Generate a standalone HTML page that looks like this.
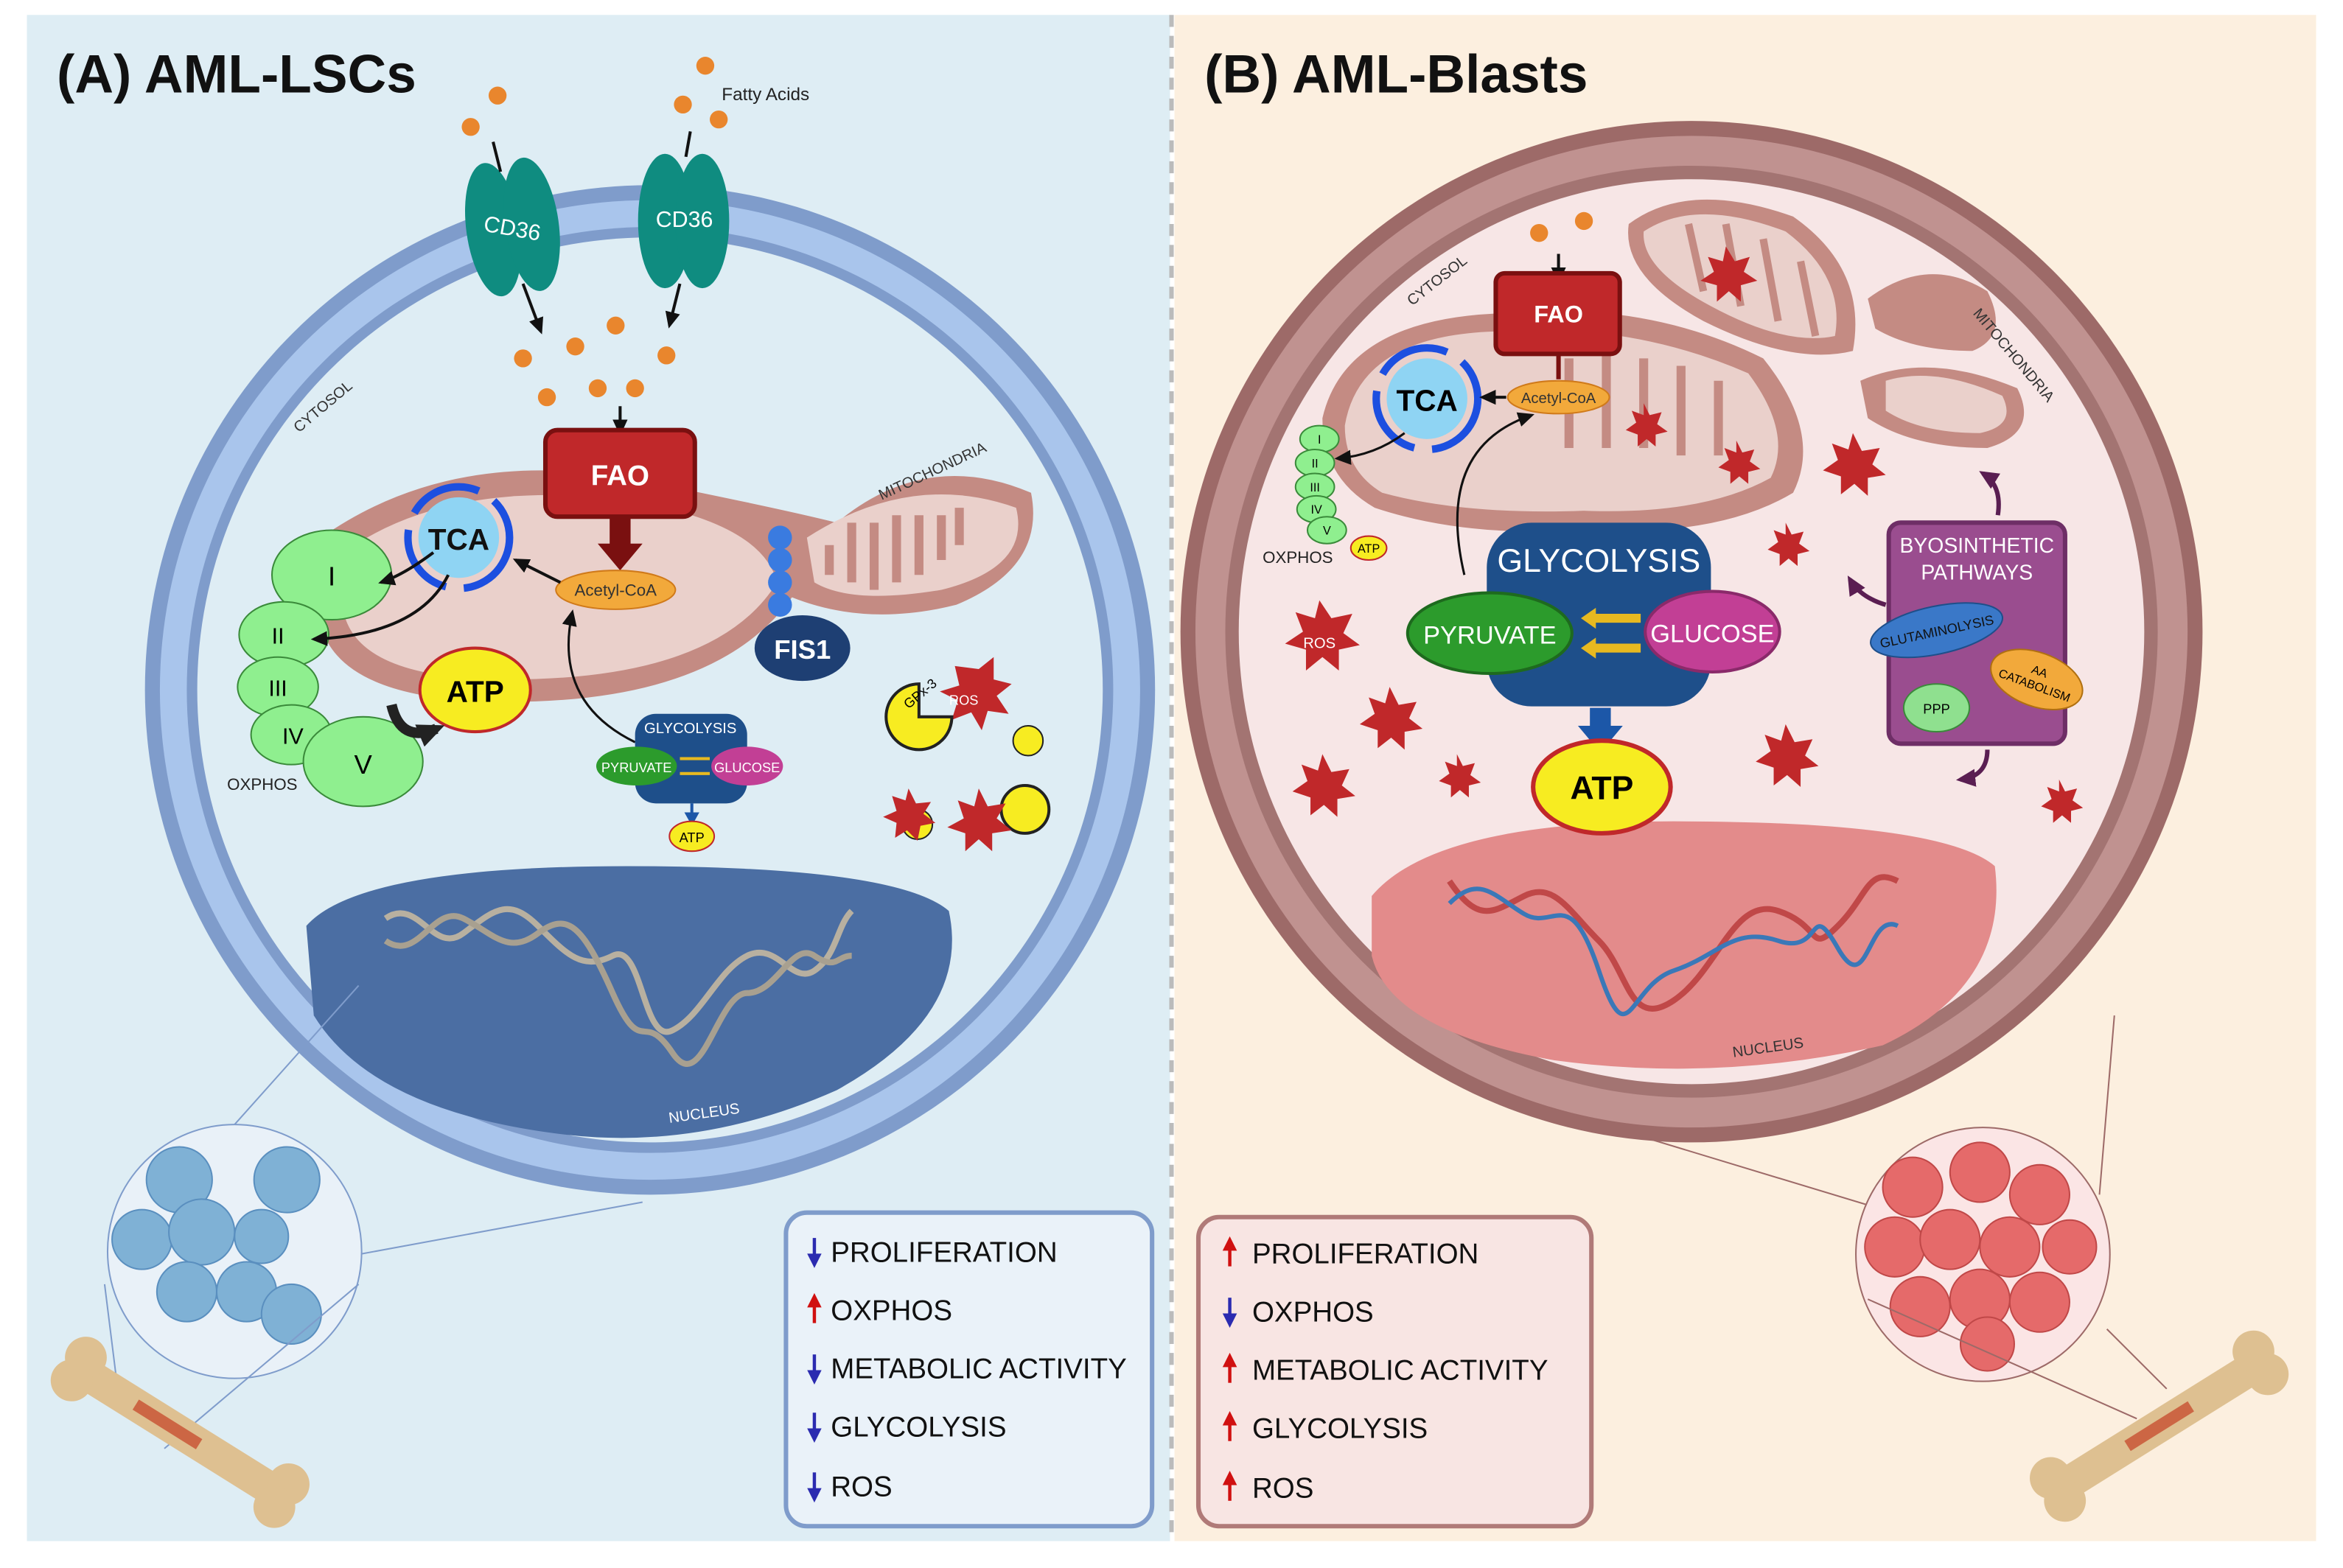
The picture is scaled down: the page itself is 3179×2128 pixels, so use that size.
<!DOCTYPE html>
<html><head><meta charset="utf-8"><style>
html,body{margin:0;padding:0;background:#fff}
svg{display:block}
text{font-family:"Liberation Sans",sans-serif}
</style></head><body>
<svg width="3179" height="2128" viewBox="0 0 1568 1050" preserveAspectRatio="none" xmlns="http://www.w3.org/2000/svg">
<defs>
<marker id="ah" markerUnits="userSpaceOnUse" markerWidth="12" markerHeight="12" refX="9" refY="6" orient="auto"><path d="M0,1 L11,6 L0,11 z" fill="#111"/></marker>
<marker id="ahp" markerUnits="userSpaceOnUse" markerWidth="14" markerHeight="14" refX="10" refY="7" orient="auto"><path d="M0,1 L13,7 L0,13 z" fill="#5a1e52"/></marker>
<marker id="ahb" markerUnits="userSpaceOnUse" markerWidth="10" markerHeight="10" refX="6" refY="5" orient="auto"><path d="M0,0 L9,5 L0,10 z" fill="#1c57a8"/></marker>
<marker id="ahk" markerUnits="userSpaceOnUse" markerWidth="20" markerHeight="20" refX="12" refY="10" orient="auto"><path d="M0,2 L18,10 L0,18 z" fill="#222"/></marker>
<g id="up"><line x1="0" y1="-2" x2="0" y2="-18" stroke-width="2.2"/><path d="M-4,-13 L0,-21 L4,-13 z"/></g>
<g id="dn"><line x1="0" y1="-20" x2="0" y2="-4" stroke-width="2.2"/><path d="M-4,-9 L0,-1 L4,-9 z"/></g>
</defs>
<rect width="1568" height="1050" fill="#fff"/>
<rect x="18" y="10" width="765" height="1022" fill="#deedf4"/>
<rect x="786" y="10" width="764" height="1022" fill="#fcefdf"/>
<line x1="784" y1="10" x2="784" y2="1032" stroke="#bbb" stroke-width="3" stroke-dasharray="8,6"/>

<!-- LEFT CELL -->
<circle cx="435" cy="462" r="338" fill="#7f9ccb"/>
<circle cx="435" cy="462" r="328" fill="#a9c5ec"/>
<circle cx="435" cy="462" r="310" fill="#7f9ccb"/>
<circle cx="435" cy="462" r="303" fill="#deedf4"/>
<text x="38" y="62" font-size="36" font-weight="bold" fill="#111">(A) AML-LSCs</text>
<text x="200" y="290" font-size="10" fill="#333" transform="rotate(-40 200 290)">CYTOSOL</text>
<!-- nucleus -->
<path d="M205,620 Q240,580 420,580 Q600,580 635,610 Q650,680 560,730 Q470,770 380,760 Q250,745 210,680 Z" fill="#4b6ea3"/>
<path d="M258,615 C280,600 290,640 310,625 S340,600 360,620 S390,650 410,640 S430,700 450,690 S480,650 500,640 S530,660 545,650 S560,620 570,610" fill="none" stroke="#b8b0a0" stroke-width="4"/>
<path d="M258,630 C280,645 290,605 310,615 S340,640 360,625 S390,620 410,665 S430,675 450,705 S480,665 500,665 S530,630 545,640 S560,640 570,640" fill="none" stroke="#a8a090" stroke-width="4"/>
<text x="448" y="752" font-size="10" fill="#fff" transform="rotate(-8 448 752)">NUCLEUS</text>
<!-- mitochondria -->
<path d="M215,360 Q300,300 420,320 Q520,340 560,350 Q620,300 690,330 Q700,380 640,405 Q580,420 530,400 Q480,470 340,470 Q230,470 215,420 Z" fill="#c48b83"/>
<path d="M230,370 Q300,320 420,335 Q510,350 520,390 Q480,455 340,455 Q240,455 230,410 Z" fill="#ead0cb"/>
<path d="M540,360 Q610,315 680,340 Q690,380 630,395 Q570,405 545,390 Z" fill="#ead0cb"/>
<path d="M555,385 l0,-20 m15,25 l0,-40 m15,45 l0,-45 m15,40 l0,-45 m15,40 l0,-40 m15,30 l0,-30 m12,20 l0,-25" stroke="#c48b83" stroke-width="6"/>
<text x="590" y="335" font-size="10" fill="#333" transform="rotate(-25 590 335)">MITOCHONDRIA</text>
<!-- FIS1 -->
<circle cx="522" cy="360" r="8" fill="#3a7be0"/><circle cx="522" cy="375" r="8" fill="#3a7be0"/><circle cx="522" cy="390" r="8" fill="#3a7be0"/><circle cx="522" cy="405" r="8" fill="#3a7be0"/>
<ellipse cx="537" cy="434" rx="32" ry="22" fill="#1e3f73"/>
<text x="537" y="441" font-size="18" font-weight="bold" fill="#fff" text-anchor="middle">FIS1</text>
<!-- CD36 -->
<g transform="rotate(-8 343 152)"><ellipse cx="330" cy="152" rx="18" ry="45" fill="#0f8c80"/><ellipse cx="356" cy="152" rx="18" ry="45" fill="#0f8c80"/></g>
<text x="343" y="158" font-size="15" fill="#fff" text-anchor="middle" transform="rotate(10 343 152)">CD36</text>
<ellipse cx="445" cy="148" rx="18" ry="45" fill="#0f8c80"/><ellipse cx="470" cy="148" rx="18" ry="45" fill="#0f8c80"/>
<text x="458" y="152" font-size="15" fill="#fff" text-anchor="middle">CD36</text>
<text x="483" y="67" font-size="12" fill="#222">Fatty Acids</text>
<g fill="#e9862d"><circle cx="315" cy="85" r="6"/><circle cx="333" cy="64" r="6"/><circle cx="472" cy="44" r="6"/><circle cx="457" cy="70" r="6"/><circle cx="481" cy="80" r="6"/><circle cx="350" cy="240" r="6"/><circle cx="385" cy="232" r="6"/><circle cx="412" cy="218" r="6"/><circle cx="446" cy="238" r="6"/><circle cx="366" cy="266" r="6"/><circle cx="400" cy="260" r="6"/><circle cx="425" cy="260" r="6"/></g>
<line x1="330" y1="95" x2="335" y2="115" stroke="#111" stroke-width="2"/>
<line x1="462" y1="88" x2="459" y2="105" stroke="#111" stroke-width="2"/>
<line x1="350" y1="190" x2="362" y2="222" stroke="#111" stroke-width="2" marker-end="url(#ah)"/>
<line x1="455" y1="190" x2="448" y2="218" stroke="#111" stroke-width="2" marker-end="url(#ah)"/>
<line x1="415" y1="272" x2="415" y2="290" stroke="#111" stroke-width="2" marker-end="url(#ah)"/>
<!-- FAO -->
<rect x="365" y="288" width="100" height="58" rx="8" fill="#c0282a" stroke="#7a1010" stroke-width="3"/>
<text x="415" y="325" font-size="19" font-weight="bold" fill="#fff" text-anchor="middle">FAO</text>
<path d="M408,346 h14 v18 h8 l-15,18 l-15,-18 h8 z" fill="#7a1010"/>
<ellipse cx="412" cy="395" rx="40" ry="13" fill="#f2a93b" stroke="#d07a1a"/>
<text x="412" y="399" font-size="11" fill="#333" text-anchor="middle">Acetyl-CoA</text>
<!-- TCA -->
<circle cx="307" cy="360" r="34" fill="none" stroke="#1c4fe0" stroke-width="5" stroke-dasharray="50,12"/>
<circle cx="307" cy="360" r="27" fill="#8fd4f3"/>
<text x="307" y="368" font-size="20" font-weight="bold" fill="#111" text-anchor="middle">TCA</text>
<line x1="375" y1="390" x2="345" y2="375" stroke="#111" stroke-width="2" marker-end="url(#ah)"/>
<!-- OXPHOS complexes -->
<g fill="#8fef8f" stroke="#3a8a3a"><ellipse cx="222" cy="385" rx="40" ry="30"/><ellipse cx="190" cy="425" rx="30" ry="22"/><ellipse cx="186" cy="460" rx="27" ry="20"/><ellipse cx="195" cy="492" rx="27" ry="20"/><ellipse cx="243" cy="510" rx="40" ry="30"/></g>
<text x="222" y="392" font-size="18" text-anchor="middle">I</text>
<text x="186" y="431" font-size="15" text-anchor="middle">II</text>
<text x="186" y="466" font-size="15" text-anchor="middle">III</text>
<text x="196" y="498" font-size="15" text-anchor="middle">IV</text>
<text x="243" y="518" font-size="18" text-anchor="middle">V</text>
<text x="152" y="529" font-size="11" fill="#222">OXPHOS</text>
<path d="M290,370 Q270,385 255,390" fill="none" stroke="#111" stroke-width="2" marker-end="url(#ah)"/>
<path d="M300,385 Q280,425 210,428" fill="none" stroke="#111" stroke-width="2" marker-end="url(#ah)"/>
<ellipse cx="318" cy="462" rx="37" ry="28" fill="#f7ec21" stroke="#c0282a" stroke-width="2"/>
<text x="318" y="470" font-size="20" font-weight="bold" text-anchor="middle">ATP</text>
<path d="M262,472 Q268,498 292,488" fill="none" stroke="#222" stroke-width="7" marker-end="url(#ahk)"/>
<!-- small glycolysis -->
<path d="M425,497 Q370,470 383,410" fill="none" stroke="#111" stroke-width="1.5" marker-end="url(#ah)"/>
<rect x="425" y="478" width="75" height="60" rx="14" fill="#1e4f8a"/>
<text x="462" y="491" font-size="10" fill="#fff" text-anchor="middle">GLYCOLYSIS</text>
<ellipse cx="426" cy="513" rx="27" ry="13" fill="#2c9b2c"/>
<text x="426" y="517" font-size="9" fill="#fff" text-anchor="middle">PYRUVATE</text>
<ellipse cx="500" cy="513" rx="24" ry="13" fill="#c23f95"/>
<text x="500" y="517" font-size="9" fill="#fff" text-anchor="middle">GLUCOSE</text>
<path d="M455,508 h20 M455,518 h20" stroke="#e7b920" stroke-width="2"/>
<line x1="463" y1="538" x2="463" y2="550" stroke="#1c57a8" stroke-width="2" marker-end="url(#ahb)"/>
<ellipse cx="463" cy="560" rx="15" ry="10" fill="#f7ec21" stroke="#c0282a"/>
<text x="463" y="564" font-size="9" text-anchor="middle">ATP</text>
<!-- GPx / ROS -->
<path d="M655,448 l10,-8 l0,15 l12,3 l-10,8 l8,12 l-14,-2 l-4,13 l-7,-12 l-13,5 l4,-13 l-12,-6 l13,-4 l-3,-13 z" fill="#c0282a"/>
<text x="645" y="472" font-size="9" fill="#fff" text-anchor="middle">ROS</text>
<path d="M615,480 m0,-22 a22,22 0 1 0 22,22 l-22,0 z" fill="#f7ec21" stroke="#222" stroke-width="2"/>
<text x="608" y="475" font-size="9" transform="rotate(-40 608 475)">GPx-3</text>
<circle cx="688" cy="496" r="10" fill="#f7ec21" stroke="#222"/>
<circle cx="686" cy="542" r="16" fill="#f7ec21" stroke="#222" stroke-width="2"/>
<circle cx="614" cy="552" r="10" fill="#f7ec21" stroke="#222"/>
<path d="M655,528 l6,12 l12,-2 l-6,10 l10,8 l-13,2 l0,12 l-9,-8 l-9,8 l0,-12 l-12,-4 l11,-6 l-4,-12 l11,4 z" fill="#c0282a"/>
<path d="M608,528 l5,10 l10,-1 l-5,8 l8,6 l-10,2 l-2,10 l-7,-7 l-8,5 l1,-10 l-9,-4 l9,-4 l-3,-10 l9,3 z" fill="#c0282a"/>
<!-- zoom circle left -->
<line x1="157" y1="753" x2="240" y2="660" stroke="#7f9ccb"/>
<line x1="240" y1="840" x2="430" y2="805" stroke="#7f9ccb"/>
<circle cx="157" cy="838" r="85" fill="#e9f1f8" stroke="#7f9ccb"/>
<g fill="#7fb1d5" stroke="#5a8fbf"><circle cx="120" cy="790" r="22"/><circle cx="192" cy="790" r="22"/><circle cx="95" cy="830" r="20"/><circle cx="135" cy="825" r="22"/><circle cx="175" cy="828" r="18"/><circle cx="125" cy="865" r="20"/><circle cx="165" cy="865" r="20"/><circle cx="195" cy="880" r="20"/></g>
<line x1="70" y1="860" x2="80" y2="940" stroke="#7f9ccb"/>
<line x1="240" y1="860" x2="110" y2="970" stroke="#7f9ccb"/>
<!-- bone left -->
<g transform="rotate(32 120 960)"><rect x="40" y="948" width="160" height="22" rx="8" fill="#dec091"/><circle cx="40" cy="950" r="14" fill="#dec091"/><circle cx="40" cy="968" r="14" fill="#dec091"/><circle cx="200" cy="950" r="14" fill="#dec091"/><circle cx="200" cy="968" r="14" fill="#dec091"/><rect x="85" y="955" width="50" height="8" fill="#c64"/></g>
<!-- legend left -->
<rect x="526" y="812" width="245" height="210" rx="14" fill="#eaf2f9" stroke="#7f9ccb" stroke-width="3"/>
<g font-size="19" fill="#111"><text x="556" y="845">PROLIFERATION</text><text x="556" y="884">OXPHOS</text><text x="556" y="923">METABOLIC ACTIVITY</text><text x="556" y="962">GLYCOLYSIS</text><text x="556" y="1002">ROS</text></g>
<g fill="#2b2bb0" stroke="#2b2bb0"><use href="#dn" x="545" y="849"/><use href="#dn" x="545" y="927"/><use href="#dn" x="545" y="966"/><use href="#dn" x="545" y="1006"/></g>
<g fill="#d01010" stroke="#d01010"><use href="#up" x="545" y="888"/></g>

<!-- RIGHT CELL -->
<circle cx="1132" cy="423" r="342" fill="#9d6a68"/>
<circle cx="1132" cy="423" r="332" fill="#c09290"/>
<circle cx="1132" cy="423" r="312" fill="#a37472"/>
<circle cx="1132" cy="423" r="303" fill="#f7e6e6"/>
<text x="806" y="62" font-size="36" font-weight="bold" fill="#111">(B) AML-Blasts</text>
<text x="945" y="205" font-size="10" fill="#333" transform="rotate(-38 945 205)">CYTOSOL</text>
<path d="M918,600 Q960,550 1120,550 Q1300,550 1335,580 Q1345,660 1260,700 Q1150,725 1040,710 Q930,690 918,640 Z" fill="#e38b8b"/>
<path d="M970,590 C990,620 1000,610 1020,600 S1050,610 1070,630 S1090,690 1120,670 S1160,600 1190,610 S1210,640 1230,620 S1250,580 1270,590" fill="none" stroke="#c04848" stroke-width="4"/>
<path d="M970,605 C990,585 1000,600 1020,612 S1050,590 1070,650 S1090,660 1120,650 S1160,620 1190,630 S1210,600 1230,635 S1250,610 1270,620" fill="none" stroke="#3a78b8" stroke-width="3"/>
<text x="1160" y="708" font-size="10" fill="#333" transform="rotate(-8 1160 708)">NUCLEUS</text>
<!-- mitochondria right -->
<path d="M885,280 Q900,215 1000,210 Q1100,200 1180,240 Q1220,290 1200,330 Q1150,360 1060,355 Q980,360 920,340 Q885,320 885,280 Z" fill="#c48b83"/>
<path d="M900,285 Q910,225 1000,222 Q1090,215 1170,250 Q1200,290 1185,320 Q1140,345 1060,342 Q980,345 925,330 Q900,315 900,285 Z" fill="#ead0cb"/>
<path d="M1050,240 v60 M1075,235 v65 M1100,240 v60 M1125,245 v60 M1150,255 v50" stroke="#c48b83" stroke-width="6"/>
<path d="M1090,150 Q1130,120 1200,145 Q1250,180 1240,235 Q1200,245 1140,215 Q1085,185 1090,150 Z" fill="#c48b83"/>
<path d="M1100,155 Q1135,132 1195,155 Q1235,185 1228,225 Q1195,232 1145,205 Q1098,180 1100,155 Z" fill="#ead0cb"/>
<path d="M1130,150 l10,45 M1155,150 l10,55 M1180,160 l10,55 M1205,175 l10,50" stroke="#c48b83" stroke-width="5"/>
<path d="M1250,200 Q1290,170 1330,195 Q1345,225 1320,235 Q1280,235 1255,220 Z" fill="#c48b83"/>
<path d="M1245,255 Q1290,235 1350,260 Q1365,290 1330,300 Q1280,300 1250,280 Z" fill="#c48b83"/>
<path d="M1262,255 Q1295,245 1340,265 Q1350,285 1325,290 Q1285,290 1262,275 Z" fill="#ead0cb"/>
<text x="1320" y="210" font-size="10" fill="#333" transform="rotate(50 1320 210)">MITOCHONDRIA</text>
<g fill="#c0282a"><path d="M1155,165 l6,10 l10,-3 l-4,10 l9,6 l-11,3 l0,11 l-8,-7 l-8,7 l0,-11 l-11,-3 l9,-6 l-4,-10 l10,3 z"/><path d="M1240,290 l6,12 l12,-2 l-5,11 l9,7 l-12,2 l0,12 l-9,-8 l-9,7 l0,-12 l-12,-4 l10,-7 l-4,-11 l11,4 z"/><path d="M1100,270 l4,8 l8,-2 l-3,8 l7,5 l-8,2 l0,8 l-6,-5 l-6,5 l0,-8 l-8,-3 l7,-5 l-3,-8 l8,3 z"/><path d="M1195,350 l4,8 l8,-2 l-3,8 l7,5 l-8,2 l0,8 l-6,-5 l-6,5 l0,-8 l-8,-3 l7,-5 l-3,-8 l8,3 z"/><path d="M930,460 l6,12 l12,-2 l-5,11 l9,7 l-12,2 l0,12 l-9,-8 l-9,7 l0,-12 l-12,-4 l10,-7 l-4,-11 l11,4 z"/><path d="M885,505 l6,12 l12,-2 l-5,11 l9,7 l-12,2 l0,12 l-9,-8 l-9,7 l0,-12 l-12,-4 l10,-7 l-4,-11 l11,4 z"/><path d="M975,505 l4,8 l8,-2 l-3,8 l7,5 l-8,2 l0,8 l-6,-5 l-6,5 l0,-8 l-8,-3 l7,-5 l-3,-8 l8,3 z"/><path d="M1195,485 l6,12 l12,-2 l-5,11 l9,7 l-12,2 l0,12 l-9,-8 l-9,7 l0,-12 l-12,-4 l10,-7 l-4,-11 l11,4 z"/><path d="M1378,522 l4,8 l8,-2 l-3,8 l7,5 l-8,2 l0,8 l-6,-5 l-6,5 l0,-8 l-8,-3 l7,-5 l-3,-8 l8,3 z"/><path d="M883,402 l8,12 l14,-3 l-6,13 l11,8 l-14,3 l0,14 l-11,-9 l-11,9 l0,-14 l-14,-4 l12,-8 l-5,-13 l13,4 z"/><path d="M1162,295 l4,8 l8,-2 l-3,8 l7,5 l-8,2 l0,8 l-6,-5 l-6,5 l0,-8 l-8,-3 l7,-5 l-3,-8 l8,3 z"/></g>
<text x="883" y="434" font-size="10" fill="#fff" text-anchor="middle">ROS</text>
<!-- FAO right -->
<circle cx="1030" cy="156" r="6" fill="#e9862d"/><circle cx="1060" cy="148" r="6" fill="#e9862d"/>
<line x1="1043" y1="170" x2="1043" y2="188" stroke="#111" stroke-width="2" marker-end="url(#ah)"/>
<rect x="1001" y="183" width="83" height="54" rx="6" fill="#c0282a" stroke="#7a1010" stroke-width="3"/>
<text x="1043" y="216" font-size="16" font-weight="bold" fill="#fff" text-anchor="middle">FAO</text>
<line x1="1043" y1="237" x2="1043" y2="254" stroke="#7a1010" stroke-width="3"/>
<ellipse cx="1043" cy="266" rx="34" ry="11" fill="#f2a93b" stroke="#d07a1a"/>
<text x="1043" y="270" font-size="10" fill="#333" text-anchor="middle">Acetyl-CoA</text>
<circle cx="955" cy="267" r="34" fill="none" stroke="#1c4fe0" stroke-width="5" stroke-dasharray="50,12"/>
<circle cx="955" cy="267" r="27" fill="#8fd4f3"/>
<text x="955" y="275" font-size="20" font-weight="bold" text-anchor="middle">TCA</text>
<line x1="1008" y1="266" x2="992" y2="266" stroke="#111" stroke-width="2" marker-end="url(#ah)"/>
<g fill="#8fef8f" stroke="#3a8a3a"><ellipse cx="883" cy="294" rx="13" ry="9"/><ellipse cx="880" cy="310" rx="13" ry="9"/><ellipse cx="880" cy="326" rx="13" ry="9"/><ellipse cx="881" cy="341" rx="13" ry="9"/><ellipse cx="888" cy="355" rx="13" ry="9"/></g>
<g font-size="8" text-anchor="middle"><text x="883" y="297">I</text><text x="880" y="313">II</text><text x="880" y="329">III</text><text x="881" y="344">IV</text><text x="888" y="358">V</text></g>
<ellipse cx="916" cy="367" rx="12" ry="8" fill="#f7ec21" stroke="#c0282a"/>
<text x="916" y="370" font-size="8" text-anchor="middle">ATP</text>
<text x="845" y="377" font-size="11" fill="#222">OXPHOS</text>
<path d="M940,290 Q920,305 895,307" fill="none" stroke="#111" stroke-width="1.5" marker-end="url(#ah)"/>
<path d="M980,385 Q960,300 1025,278" fill="none" stroke="#111" stroke-width="1.5" marker-end="url(#ah)"/>
<!-- big glycolysis -->
<rect x="995" y="350" width="150" height="123" rx="30" fill="#1e4f8a"/>
<text x="1070" y="383" font-size="22" fill="#fff" text-anchor="middle">GLYCOLYSIS</text>
<ellipse cx="997" cy="424" rx="55" ry="27" fill="#2c9b2c" stroke="#1e6a1e" stroke-width="2"/>
<text x="997" y="431" font-size="17" fill="#fff" text-anchor="middle">PYRUVATE</text>
<ellipse cx="1146" cy="423" rx="45" ry="27" fill="#c23f95" stroke="#8a2a6a" stroke-width="2"/>
<text x="1146" y="430" font-size="17" fill="#fff" text-anchor="middle">GLUCOSE</text>
<path d="M1098,414 h-32 M1098,434 h-32" stroke="#e7b920" stroke-width="6"/>
<path d="M1058,414 l10,-7 v14 z M1058,434 l10,-7 v14 z" fill="#e7b920"/>
<path d="M1064,474 h14 v12 h8 l-15,18 l-15,-18 h8 z" fill="#1c57a8"/>
<ellipse cx="1072" cy="527" rx="46" ry="31" fill="#f7ec21" stroke="#c0282a" stroke-width="3"/>
<text x="1072" y="535" font-size="22" font-weight="bold" text-anchor="middle">ATP</text>
<!-- biosynthetic -->
<rect x="1264" y="350" width="118" height="148" rx="8" fill="#9a4d8f" stroke="#6e2e66" stroke-width="3"/>
<text x="1323" y="370" font-size="14" fill="#fff" text-anchor="middle">BYOSINTHETIC</text>
<text x="1323" y="388" font-size="14" fill="#fff" text-anchor="middle">PATHWAYS</text>
<ellipse cx="1296" cy="422" rx="45" ry="16" fill="#3a78c8" stroke="#1e4f8a" transform="rotate(-12 1296 422)"/>
<text x="1296" y="426" font-size="9" fill="#111" text-anchor="middle" transform="rotate(-12 1296 422)">GLUTAMINOLYSIS</text>
<ellipse cx="1363" cy="455" rx="32" ry="18" fill="#f2a93b" stroke="#b07010" transform="rotate(20 1363 455)"/>
<text x="1363" y="452" font-size="8" text-anchor="middle" transform="rotate(20 1363 455)">AA</text>
<text x="1363" y="462" font-size="8" text-anchor="middle" transform="rotate(20 1363 455)">CATABOLISM</text>
<ellipse cx="1296" cy="474" rx="22" ry="16" fill="#8fe08f" stroke="#3a8a3a"/>
<text x="1296" y="478" font-size="9" text-anchor="middle">PPP</text>
<path d="M1337,345 Q1340,325 1327,317" fill="none" stroke="#5a1e52" stroke-width="3" marker-end="url(#ahp)"/>
<path d="M1262,405 Q1245,400 1238,388" fill="none" stroke="#5a1e52" stroke-width="3" marker-end="url(#ahp)"/>
<path d="M1330,502 Q1330,520 1312,522" fill="none" stroke="#5a1e52" stroke-width="3" marker-end="url(#ahp)"/>
<!-- zoom circle right -->
<line x1="1095" y1="760" x2="1260" y2="810" stroke="#9d6a68"/>
<line x1="1415" y1="680" x2="1405" y2="800" stroke="#9d6a68"/>
<circle cx="1327" cy="840" r="85" fill="#fbe5e5" stroke="#9d6a68"/>
<g fill="#e56a6a" stroke="#c04848"><circle cx="1280" cy="795" r="20"/><circle cx="1325" cy="785" r="20"/><circle cx="1365" cy="800" r="20"/><circle cx="1268" cy="835" r="20"/><circle cx="1305" cy="830" r="20"/><circle cx="1345" cy="835" r="20"/><circle cx="1385" cy="835" r="18"/><circle cx="1285" cy="875" r="20"/><circle cx="1325" cy="870" r="20"/><circle cx="1365" cy="872" r="20"/><circle cx="1330" cy="900" r="18"/></g>
<line x1="1250" y1="870" x2="1430" y2="950" stroke="#9d6a68"/>
<line x1="1410" y1="890" x2="1450" y2="930" stroke="#9d6a68"/>
<g transform="rotate(-32 1445 955)"><rect x="1365" y="944" width="160" height="22" rx="8" fill="#dec091"/><circle cx="1365" cy="946" r="14" fill="#dec091"/><circle cx="1365" cy="964" r="14" fill="#dec091"/><circle cx="1525" cy="946" r="14" fill="#dec091"/><circle cx="1525" cy="964" r="14" fill="#dec091"/><rect x="1420" y="951" width="50" height="8" fill="#c64"/></g>
<!-- legend right -->
<rect x="802" y="815" width="263" height="207" rx="14" fill="#f8e5e3" stroke="#b07a78" stroke-width="3"/>
<g font-size="19" fill="#111"><text x="838" y="846">PROLIFERATION</text><text x="838" y="885">OXPHOS</text><text x="838" y="924">METABOLIC ACTIVITY</text><text x="838" y="963">GLYCOLYSIS</text><text x="838" y="1003">ROS</text></g>
<g fill="#d01010" stroke="#d01010"><use href="#up" x="823" y="850"/><use href="#up" x="823" y="928"/><use href="#up" x="823" y="967"/><use href="#up" x="823" y="1007"/></g>
<g fill="#2b2bb0" stroke="#2b2bb0"><use href="#dn" x="823" y="889"/></g>
</svg>
</body></html>
